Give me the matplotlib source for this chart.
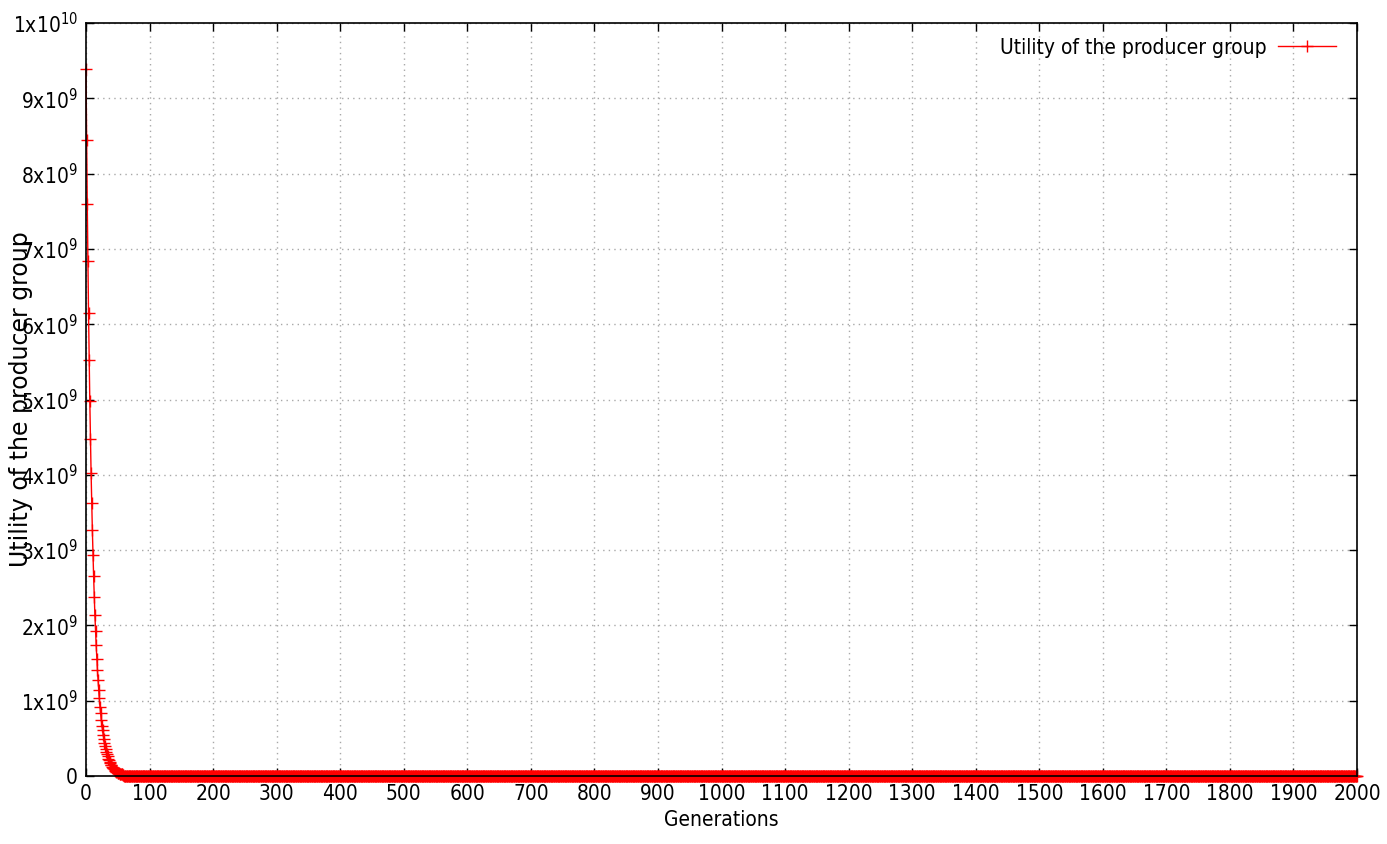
import numpy as np
import matplotlib
matplotlib.use("Agg")
import matplotlib.pyplot as plt

plt.rcParams['mathtext.default'] = 'regular'

# utility values (units of 1e9), one per generation
head = [9.39, 8.45, 7.59, 6.84, 6.15, 5.53, 4.98, 4.48, 4.03, 3.63,
        3.27, 2.94, 2.65, 2.38, 2.14, 1.93, 1.74, 1.56, 1.41, 1.27,
        1.14, 1.03, 0.92, 0.83, 0.75, 0.67, 0.61, 0.55, 0.49, 0.44,
        0.40, 0.36, 0.32, 0.29, 0.26, 0.23, 0.21, 0.19, 0.17, 0.15,
        0.14, 0.12, 0.11, 0.10, 0.09, 0.08, 0.07, 0.06, 0.055, 0.05,
        0.045, 0.04, 0.035, 0.03, 0.03, 0.025, 0.02, 0.02, 0.015, 0.01]
n_gen = 2001
utility = np.array(head + [0.0] * (n_gen - len(head))) * 1e9
generations = np.arange(n_gen)

xticks = list(range(0, 2001, 100))
yticks = [i * 1e9 for i in range(11)]
ylabels = ['0'] + [r'%dx10$^{9}$' % i for i in range(1, 10)] + [r'1x10$^{10}$']
series_name = "Utility of the producer group"

fig = plt.figure(figsize=(13.87, 8.44), dpi=100)
ax = fig.add_axes([0.062, 0.0806, 0.9164, 0.8921])

ax.plot(generations, utility, color='red', lw=1.0, marker='+', ms=8,
        mew=1.0, label=series_name, clip_on=False, zorder=3)

ax.set_xlim(0, 2000)
ax.set_ylim(0, 1e10)
ax.set_xticks(xticks)
ax.set_xticklabels([str(t) for t in xticks], fontsize=15, stretch='condensed')
ax.set_yticks(yticks)
ax.set_yticklabels(ylabels, fontsize=15, stretch='condensed')
ax.tick_params(direction='in', length=6, width=1, top=True, right=True,
               pad=6)
ax.grid(True, color='#a8a8a8', ls=(0, (1, 3)), lw=1)
for s in ax.spines.values():
    s.set_linewidth(1.2)
    s.set_zorder(4)

ax.set_xlabel("Generations", fontsize=15, stretch='condensed', labelpad=4)
# gnuplot puts the y label right over the tick labels
ax.yaxis.set_label_coords(-0.042, 0.5)
ax.set_ylabel(series_name, fontsize=17)

leg = ax.legend(loc='upper right', bbox_to_anchor=(0.9953, 1.0),
                frameon=False, markerfirst=False, handlelength=2.8,
                handletextpad=0.55, borderaxespad=0.3,
                prop={'size': 15, 'stretch': 'condensed'})

fig.savefig("out.png", dpi=100)
